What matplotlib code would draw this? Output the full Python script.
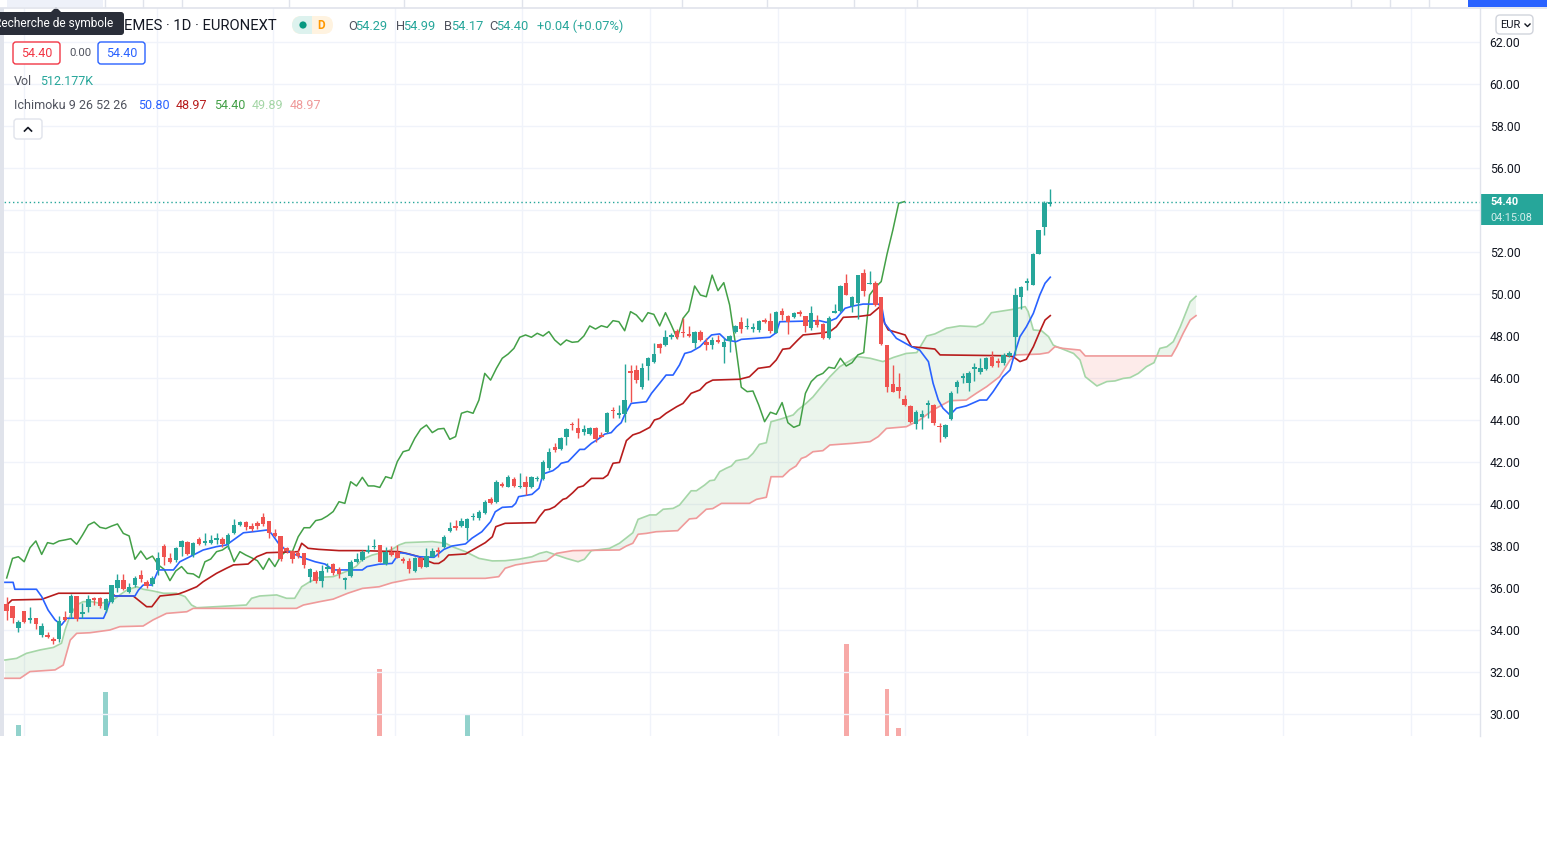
import numpy as np
import matplotlib
matplotlib.use("Agg")
import matplotlib.pyplot as plt
from matplotlib.patches import Rectangle, FancyBboxPatch, Polygon, Circle

plt.rcParams['font.family'] = ['Roboto', 'DejaVu Sans']

# ---- daily candles ----
opens = [35.24, 35.16, 34.11, 34.90, 34.46, 34.57, 33.76, 33.76, 33.57, 33.59,
         34.63, 34.79, 35.62, 34.76, 35.08, 35.54, 35.54, 34.95, 35.35, 35.98,
         36.38, 35.79, 36.14, 36.62, 36.30, 36.17, 36.86, 38.00, 37.41, 37.33,
         37.97, 38.21, 37.57, 38.33, 38.13, 38.16, 38.30, 38.33, 38.10, 38.60,
         38.98, 39.14, 38.95, 39.08, 39.40, 39.19, 38.63, 38.49, 37.89, 37.76,
         37.68, 37.65, 36.54, 36.78, 36.35, 36.89, 37.14, 36.89, 36.38, 36.57,
         37.25, 37.33, 37.70, 37.94, 38.05, 37.13, 37.73, 37.73, 37.37, 37.30,
         36.83, 37.41, 37.02, 37.49, 37.81, 37.94, 38.73, 38.95, 38.95, 38.87,
         39.37, 39.32, 39.56, 40.22, 40.11, 40.95, 40.83, 41.19, 40.79, 41.06,
         40.79, 41.17, 41.17, 41.70, 42.73, 42.60, 43.17, 43.81, 43.60, 43.44,
         43.33, 43.63, 43.29, 43.44, 44.48, 44.25, 44.29, 46.35, 46.38, 45.59,
         46.57, 46.78, 47.62, 47.57, 47.94, 48.25, 48.21, 48.10, 47.65, 48.21,
         47.73, 47.57, 47.81, 47.46, 47.78, 48.21, 48.68, 48.41, 48.33, 48.29,
         48.76, 48.71, 48.16, 49.19, 48.97, 48.92, 49.16, 48.95, 48.37, 48.76,
         48.57, 47.89, 49.11, 49.21, 50.51, 49.43, 49.59, 50.98, 50.48, 50.51,
         49.84, 47.57, 45.71, 45.56, 44.98, 44.67, 43.79, 44.13, 44.71, 44.71,
         43.71, 43.17, 44.03, 45.59, 45.98, 45.78, 46.43, 46.30, 46.41, 47.02,
         46.81, 46.73, 47.05, 47.94, 49.84, 50.54, 50.43, 51.90, 53.21, 54.29]
highs = [35.56, 35.16, 34.48, 34.90, 35.08, 34.57, 34.35, 33.92, 33.68, 34.67,
         34.92, 35.71, 35.62, 35.27, 35.67, 35.59, 35.59, 35.51, 36.14, 36.67,
         36.67, 36.22, 36.57, 36.86, 36.38, 36.57, 37.73, 38.10, 37.65, 37.97,
         38.29, 38.25, 38.21, 38.44, 38.60, 38.52, 38.63, 38.44, 38.63, 39.27,
         39.21, 39.21, 39.08, 39.21, 39.56, 39.19, 38.79, 38.49, 37.94, 37.81,
         37.81, 37.68, 36.94, 36.86, 37.10, 37.17, 37.17, 36.98, 36.51, 37.33,
         37.65, 37.81, 38.05, 38.32, 38.05, 37.97, 37.99, 38.05, 37.49, 37.41,
         37.49, 37.49, 37.89, 37.89, 37.97, 38.52, 39.16, 39.24, 39.32, 39.32,
         39.59, 39.71, 40.19, 40.35, 41.14, 41.06, 41.38, 41.27, 41.49, 41.33,
         41.33, 41.33, 42.10, 42.65, 42.89, 43.21, 43.60, 43.92, 44.08, 43.76,
         43.65, 43.68, 43.44, 44.40, 44.64, 44.71, 46.67, 46.62, 46.62, 46.70,
         46.98, 47.68, 47.68, 48.29, 48.16, 48.32, 48.84, 48.48, 48.25, 48.29,
         47.89, 47.97, 48.05, 47.89, 48.05, 48.52, 48.92, 48.84, 48.60, 48.76,
         48.84, 49.08, 49.19, 49.35, 49.00, 49.16, 49.24, 48.95, 49.43, 49.00,
         48.60, 48.95, 49.52, 50.43, 50.94, 49.90, 50.90, 51.17, 51.11, 50.63,
         49.84, 47.57, 46.62, 46.22, 45.19, 44.71, 44.48, 44.48, 44.95, 44.76,
         43.84, 43.79, 45.40, 45.90, 46.22, 46.35, 46.70, 46.94, 46.98, 47.30,
         46.94, 47.17, 47.30, 50.27, 50.38, 50.75, 51.97, 53.05, 54.44, 54.99]
lows = [34.48, 34.35, 33.92, 34.32, 34.32, 34.03, 33.68, 33.60, 33.32, 33.44,
        34.44, 34.59, 34.44, 34.56, 34.87, 35.19, 35.03, 34.87, 35.27, 35.83,
        35.90, 35.75, 36.06, 36.30, 35.98, 36.10, 36.62, 37.10, 37.17, 37.25,
        37.52, 37.57, 37.49, 38.05, 38.05, 38.10, 38.10, 37.97, 37.84, 38.57,
        38.95, 38.76, 38.73, 38.79, 38.95, 38.37, 38.44, 37.30, 37.65, 37.17,
        37.44, 36.94, 36.30, 36.22, 36.06, 36.78, 36.62, 36.46, 35.94, 36.51,
        37.17, 37.30, 37.65, 37.84, 37.22, 37.10, 37.52, 37.41, 37.17, 36.70,
        36.78, 36.94, 37.02, 37.46, 37.49, 37.89, 38.68, 38.76, 38.92, 38.29,
        39.24, 39.24, 39.52, 40.00, 40.06, 40.79, 40.79, 40.79, 40.75, 40.43,
        40.76, 41.11, 41.14, 41.62, 42.49, 42.57, 42.81, 43.52, 43.13, 43.29,
        43.29, 42.97, 43.17, 43.40, 44.08, 44.08, 43.92, 44.87, 45.78, 45.46,
        45.90, 46.73, 47.21, 47.52, 47.84, 47.84, 47.97, 47.94, 47.41, 47.78,
        47.33, 47.37, 47.65, 46.73, 47.25, 48.13, 48.16, 48.32, 48.21, 48.21,
        48.63, 48.16, 48.13, 48.76, 48.10, 48.87, 48.97, 48.21, 48.29, 48.44,
        47.84, 47.84, 49.08, 49.16, 49.95, 49.16, 48.79, 49.90, 50.48, 49.43,
        47.57, 45.35, 45.35, 45.03, 44.67, 43.87, 43.56, 43.56, 44.08, 43.76,
        42.97, 43.13, 44.00, 45.27, 45.75, 45.40, 45.87, 46.19, 46.38, 46.51,
        46.51, 46.62, 47.02, 47.10, 49.27, 50.19, 50.43, 51.90, 52.81, 54.17]
closes = [34.92, 34.56, 34.37, 34.40, 34.57, 34.29, 34.19, 33.67, 33.49, 34.43,
          34.48, 35.62, 34.52, 34.86, 35.46, 35.43, 35.16, 35.46, 36.14, 36.38,
          35.95, 36.03, 36.46, 36.41, 36.11, 36.48, 37.41, 37.49, 37.25, 37.92,
          38.24, 37.60, 38.16, 38.10, 38.24, 38.29, 38.35, 38.08, 38.52, 39.00,
          39.14, 38.89, 38.83, 38.95, 39.05, 38.60, 38.48, 37.37, 37.76, 37.37,
          37.52, 37.10, 36.89, 36.35, 36.81, 37.02, 36.70, 36.67, 36.49, 37.25,
          37.38, 37.73, 37.81, 38.00, 37.25, 37.73, 37.57, 37.44, 37.30, 36.89,
          37.41, 37.02, 37.52, 37.78, 37.73, 38.44, 38.87, 38.87, 39.21, 39.27,
          39.43, 39.64, 40.11, 40.03, 41.06, 40.86, 41.27, 40.86, 40.86, 40.79,
          41.30, 41.22, 42.02, 42.49, 42.57, 43.13, 43.56, 43.76, 43.40, 43.57,
          43.60, 43.08, 43.21, 44.32, 44.41, 44.32, 44.95, 46.22, 45.90, 46.46,
          46.94, 47.14, 47.41, 47.94, 48.05, 47.94, 48.13, 48.00, 48.21, 47.81,
          47.57, 47.81, 47.70, 47.73, 48.00, 48.48, 48.33, 48.49, 48.41, 48.73,
          48.68, 48.25, 49.16, 49.00, 48.68, 49.11, 49.03, 48.48, 49.11, 48.52,
          47.89, 48.84, 49.19, 50.38, 49.95, 49.87, 50.90, 50.16, 50.54, 49.48,
          47.62, 45.56, 45.35, 45.38, 44.71, 43.92, 44.37, 44.27, 44.83, 43.87,
          43.65, 43.76, 45.27, 45.83, 46.10, 46.22, 46.51, 46.46, 46.94, 46.57,
          46.73, 47.10, 47.21, 49.95, 50.32, 50.59, 51.90, 53.05, 54.32, 54.40]

# volume: only the bars whose tops rise into the visible pane, plus the last one
vol_bar = [2, 17, 64, 79, 144, 151, 153, 179]
vol_val = [850e3, 1180e3, 1410e3, 950e3, 1660e3, 1210e3, 820e3, 512177]

# ---- Ichimoku 9 26 52 26, vertices (bar index, price) ----
tenkan_x = [-0.3, 1.1, 1.4, 5.1, 6.0, 7.1, 8.3, 9.4, 10.3, 16.6, 17.1, 18.0, 22.0, 22.6,
            23.4, 24.9, 26.0, 28.6, 29.7, 32.0, 33.7, 36.0, 37.7, 38.9, 40.6, 42.3, 44.6,
            45.4, 46.6, 48.0, 50.3, 52.9, 54.6, 56.0, 61.0, 61.8, 63.8, 66.1, 66.7, 67.5,
            68.4, 70.7, 73.3, 73.8, 75.0, 76.4, 78.7, 79.8, 81.5, 83.0, 83.8, 85.0, 86.7,
            87.3, 87.8, 90.1, 91.3, 92.0, 93.7, 94.6, 95.1, 96.3, 97.1, 98.3, 99.1, 100.3,
            101.4, 102.6, 103.7, 104.6, 105.4, 106.0, 107.1, 109.7, 110.6, 112.0, 113.1,
            114.3, 115.4, 116.3, 117.4, 118.9, 120.0, 120.9, 122.3, 123.4, 125.1, 126.0,
            130.9, 132.0, 132.6, 137.1, 139.4, 140.6, 142.3, 143.8, 145.2, 146.9, 149.5,
            150.1, 150.6, 152.6, 155.2, 156.6, 158.1, 158.9, 159.8, 160.6, 161.8, 162.9,
            164.6, 166.9, 168.1, 169.2, 170.9, 172.1, 172.9, 173.8, 174.9, 176.1, 177.2,
            178.1, 179.0]
tenkan_y = [36.27, 36.27, 35.94, 35.94, 35.59, 34.95, 34.48, 34.24, 34.56, 34.56, 34.87,
            35.62, 35.62, 35.90, 36.14, 36.14, 36.86, 36.86, 37.25, 37.57, 37.81, 37.97,
            38.05, 38.29, 38.63, 38.68, 38.76, 38.60, 38.13, 37.78, 37.49, 37.25, 37.14,
            36.86, 36.86, 37.02, 37.13, 37.17, 37.41, 37.68, 37.65, 37.49, 37.46, 37.57,
            37.84, 38.00, 38.10, 38.37, 38.68, 39.16, 39.63, 39.84, 39.87, 40.03, 40.35,
            40.46, 40.75, 41.43, 41.59, 41.78, 41.94, 42.02, 42.25, 42.60, 42.60, 42.89,
            43.08, 43.33, 43.40, 43.68, 43.87, 44.25, 44.79, 44.87, 45.27, 45.75, 46.14,
            46.14, 46.62, 47.17, 47.25, 47.49, 47.81, 48.05, 48.10, 47.81, 47.73, 47.84,
            47.94, 48.16, 48.68, 48.71, 48.73, 48.65, 48.84, 49.32, 49.43, 49.52, 49.52,
            49.40, 48.60, 47.89, 47.49, 47.33, 46.78, 45.75, 44.95, 44.56, 44.24, 44.56,
            44.67, 44.95, 44.95, 45.35, 46.06, 46.38, 47.17, 47.97, 48.44, 49.08, 49.95,
            50.51, 50.80]

kijun_x = [-0.3, 0.9, 6.0, 8.9, 18.0, 18.6, 21.7, 24.0, 24.9, 26.3, 29.4, 30.6, 32.6,
           33.7, 36.0, 37.7, 38.9, 41.4, 42.9, 44.6, 50.0, 50.6, 51.7, 53.5, 57.0, 61.0,
           67.3, 69.0, 70.7, 71.8, 73.3, 74.1, 75.0, 75.8, 78.7, 82.1, 83.3, 83.9, 85.5,
           90.7, 91.4, 92.3, 93.1, 94.0, 95.4, 96.0, 97.1, 98.0, 98.9, 100.3, 102.3, 103.1,
           104.0, 105.1, 106.3, 107.4, 108.6, 110.3, 111.1, 112.0, 113.1, 114.9, 116.0,
           117.4, 118.9, 120.0, 121.1, 125.7, 127.4, 128.9, 130.9, 132.0, 133.1, 134.3,
           135.7, 136.6, 139.5, 141.2, 142.3, 143.5, 145.8, 148.1, 149.8, 150.6, 151.2,
           154.1, 155.2, 159.2, 160.1, 171.5, 172.6, 173.8, 174.9, 176.1, 177.2, 178.1,
           179.0]
kijun_y = [35.11, 35.43, 35.46, 35.75, 35.75, 35.62, 35.62, 35.11, 35.11, 35.62, 35.71,
           35.83, 36.06, 36.30, 36.70, 36.94, 37.10, 37.14, 37.49, 37.68, 37.73, 38.13,
           37.89, 37.84, 37.78, 37.78, 37.73, 37.62, 37.49, 37.33, 37.17, 37.17, 37.33,
           37.57, 37.62, 38.16, 38.44, 38.92, 39.08, 39.11, 39.40, 39.71, 39.75, 39.87,
           40.22, 40.27, 40.54, 40.79, 40.86, 41.22, 41.22, 41.38, 41.94, 41.98, 43.02,
           43.29, 43.40, 43.65, 44.00, 44.08, 44.32, 44.63, 44.79, 45.27, 45.43, 45.75,
           45.90, 45.94, 46.06, 46.46, 46.54, 46.86, 47.37, 47.41, 47.81, 48.05, 48.13,
           48.21, 48.44, 48.89, 48.92, 49.00, 49.40, 48.60, 48.29, 48.05, 47.49, 47.38,
           47.10, 47.06, 47.02, 46.78, 46.89, 47.49, 48.21, 48.76, 48.97]

span_a_x = [-0.3, 1.7, 3.4, 5.7, 8.0, 9.4, 10.0, 10.9, 12.0, 13.1, 14.6, 16.0, 18.0, 19.4,
            20.6, 22.3, 23.4, 24.9, 26.9, 29.1, 30.6, 31.7, 32.6, 41.1, 42.0, 43.4, 46.3,
            48.0, 49.4, 50.6, 52.0, 53.7, 56.0, 58.9, 60.0, 61.0, 62.7, 65.0, 66.1, 67.3,
            68.4, 73.0, 75.3, 76.4, 78.7, 81.0, 83.3, 85.5, 87.8, 90.1, 91.4, 92.6, 94.3,
            96.0, 98.0, 99.1, 100.3, 103.4, 105.1, 107.4, 108.3, 110.3, 111.4, 112.6, 114.3,
            115.4, 117.4, 118.3, 119.7, 120.6, 121.4, 122.3, 123.4, 124.3, 125.1, 127.1,
            128.0, 129.1, 130.3, 131.1, 132.6, 134.9, 135.7, 137.1, 138.3, 139.5, 141.2,
            142.9, 145.8, 148.1, 150.3, 152.1, 154.3, 156.1, 157.8, 159.2, 161.2, 163.5,
            166.3, 167.5, 168.9, 172.6, 174.7, 175.2, 176.1, 177.5, 178.7, 179.5, 180.1,
            183.0, 184.1, 185.0, 187.0, 188.7, 190.1, 191.5, 192.7, 194.1, 195.5, 196.8,
            197.8, 199.0, 200.1, 201.3, 203.0, 204.0]
span_a_y = [32.57, 32.65, 32.89, 33.05, 33.17, 33.37, 34.00, 34.71, 35.19, 35.35, 35.35,
            35.27, 35.38, 35.67, 35.90, 36.06, 35.94, 35.87, 35.75, 35.75, 35.59, 35.19,
            35.06, 35.19, 35.51, 35.62, 35.67, 35.51, 35.51, 36.06, 36.30, 36.51, 36.54,
            36.86, 37.05, 37.37, 37.57, 37.73, 37.84, 38.05, 38.16, 38.21, 38.13, 37.97,
            37.73, 37.41, 37.29, 37.30, 37.37, 37.49, 37.65, 37.73, 37.57, 37.41, 37.25,
            37.37, 37.78, 37.89, 38.13, 38.63, 39.27, 39.48, 39.48, 39.75, 39.79, 39.95,
            40.63, 40.63, 40.90, 41.11, 41.14, 41.54, 41.70, 41.81, 42.06, 42.17, 42.41,
            42.84, 42.92, 43.92, 44.03, 44.24, 44.48, 44.79, 45.10, 45.51, 46.06, 46.54,
            47.02, 46.94, 46.78, 46.98, 47.17, 47.21, 48.00, 48.10, 48.37, 48.48, 48.44,
            48.60, 49.11, 49.27, 49.40, 49.16, 48.29, 48.25, 47.97, 47.57, 47.49, 47.17,
            46.86, 46.06, 45.62, 45.83, 45.86, 45.98, 46.02, 46.22, 46.54, 46.73, 47.41,
            47.49, 47.73, 48.44, 49.63, 49.89]

span_b_x = [-0.3, 2.3, 4.0, 8.3, 9.7, 10.9, 12.0, 14.3, 17.7, 19.4, 23.4, 25.1, 27.4, 30.9,
            32.0, 49.7, 50.9, 52.3, 53.7, 56.0, 58.5, 61.0, 63.9, 66.1, 69.0, 72.4, 82.1,
            84.4, 85.5, 87.3, 90.7, 92.6, 94.3, 97.1, 105.1, 106.3, 107.4, 108.3, 109.7,
            111.4, 115.1, 117.1, 118.3, 120.0, 121.1, 122.6, 127.4, 128.6, 130.3, 131.1,
            133.1, 134.3, 135.4, 136.3, 137.1, 138.3, 140.0, 141.2, 145.2, 148.1, 149.5,
            150.9, 154.3, 156.6, 158.9, 161.8, 164.6, 166.3, 168.1, 170.3, 172.1, 173.2,
            177.2, 178.7, 179.8, 181.2, 184.1, 185.0, 199.8, 200.7, 201.8, 203.0, 204.0]
span_b_y = [31.70, 31.70, 32.02, 32.10, 32.33, 33.52, 33.84, 33.87, 34.00, 34.16, 34.19,
            34.48, 34.79, 34.87, 35.03, 35.03, 35.19, 35.27, 35.35, 35.47, 35.75, 35.98,
            36.06, 36.25, 36.41, 36.46, 36.46, 36.54, 36.94, 37.10, 37.25, 37.30, 37.65,
            37.78, 37.81, 38.00, 38.13, 38.56, 38.60, 38.68, 38.73, 39.29, 39.32, 39.75,
            39.78, 40.03, 40.03, 40.22, 40.32, 41.30, 41.30, 41.62, 41.81, 42.17, 42.25,
            42.49, 42.54, 42.81, 42.89, 42.97, 43.21, 43.60, 43.68, 44.00, 44.48, 44.92,
            44.95, 45.27, 45.59, 46.06, 46.86, 47.10, 47.14, 47.21, 47.49, 47.41, 47.33,
            47.05, 47.05, 47.49, 48.13, 48.76, 48.97]

lag = 25   # lagging span plotted 25 bars back
month_lines = [3.0, 25.8, 45.7, 66.6, 88.4, 110.3, 132.3, 154.1, 175.0, 197.0, 218.9, 240.9]
price_ticks = np.arange(30, 63, 2)

UP, DOWN = '#26a69a', '#ef5350'
W, H = 1547, 857
BAR0, STEP = 6.7, 5.83          # pixel x of bar 0 and bar spacing
PANE_R, PANE_T, PANE_B = 1480, 8, 736

fig = plt.figure(figsize=(W / 100, H / 100), dpi=100)
rect = [0, 1 - PANE_B / H, PANE_R / W, (PANE_B - PANE_T) / H]
ax = fig.add_axes(rect)
axv = ax.twinx()
axv.set_zorder(ax.get_zorder() - 1)
ax.patch.set_visible(False)
axv.patch.set_visible(True)
axv.patch.set_facecolor('white')

ax.set_xlim(-BAR0 / STEP, (PANE_R - BAR0) / STEP)
ax.set_ylim(62 - (PANE_B - 42) / 21, 62 + (42 - PANE_T) / 21)
for a in (ax, axv):
    for s in a.spines.values():
        s.set_visible(False)

# grid + price scale (the 54.00 label sits under the last-price tag)
last = closes[-1]
ax.set_xticks(month_lines)
ax.set_yticks(price_ticks)
ax.set_yticklabels(['' if abs(v - last) < 1 else f'{v:.2f}' for v in price_ticks])
ax.yaxis.tick_right()
ax.tick_params(axis='x', length=0, labelbottom=False)
ax.tick_params(axis='y', length=0, pad=7, labelsize=8.8, labelcolor='#131722')
ax.grid(True, color='#f0f3fa', lw=1)
ax.set_axisbelow(True)
axv.set_yticks([])

# volume (base sits below the visible part of the pane)
idx = np.arange(len(closes))
o, h, l, c = map(np.array, (opens, highs, lows, closes))
up = c >= o
vcols = ['#92d2cc' if up[i] else '#f7a9a7' for i in vol_bar]
axv.bar(vol_bar, vol_val, width=0.8, color=vcols, linewidth=0)
axv.set_ylim(0.74e6, 8.02e6)

# cloud
xs = np.union1d(span_a_x, span_b_x)
sa = np.interp(xs, span_a_x, span_a_y)
sb = np.interp(xs, span_b_x, span_b_y)
ax.fill_between(xs, sa, sb, where=sa >= sb, interpolate=True, color='#43a047', alpha=0.1, lw=0, zorder=1)
ax.fill_between(xs, sa, sb, where=sa < sb, interpolate=True, color='#f44336', alpha=0.1, lw=0, zorder=1)
ax.plot(span_a_x, span_a_y, color='#a5d6a7', lw=1.2, zorder=2)
ax.plot(span_b_x, span_b_y, color='#ef9a9a', lw=1.2, zorder=2)

# lines
ax.plot(idx[lag:] - lag, c[lag:], color='#43a047', lw=1.1, zorder=2)
ax.plot(kijun_x, kijun_y, color='#b71c1c', lw=1.2, zorder=2)
ax.plot(tenkan_x, tenkan_y, color='#2962ff', lw=1.2, zorder=2)

# candles
cols = np.where(up, UP, DOWN)
ax.vlines(idx, l, h, colors=cols, lw=1, zorder=3)
body = np.maximum(np.abs(c - o), 0.06)
ax.bar(idx, body, bottom=np.minimum(o, c), width=0.76, color=cols, linewidth=0, zorder=4)

ax.axhline(last, color=UP, lw=1, ls=(0, (1, 2)), zorder=2)

# ---- overlay in pixel units for the TradingView chrome ----
ov = fig.add_axes([0, 0, 1, 1])
ov.set_xlim(0, W)
ov.set_ylim(H, 0)
ov.axis('off')
ov.patch.set_visible(False)

def txt(x, y, s, color='#131722', size=9, **kw):
    ov.text(x, y, s, color=color, fontsize=size, va='center', ha=kw.pop('ha', 'left'), **kw)

def rbox(x, y, w, hgt, fc='white', ec='none', r=3, lw=1):
    ov.add_patch(FancyBboxPatch((x, y), w, hgt, boxstyle=f'round,pad=0,rounding_size={r}',
                                fc=fc, ec=ec, lw=lw))

# top strip
ov.add_patch(Rectangle((7, 0), 96, 7, color='#eef1f9', lw=0))
for sx in [105, 143, 182, 289, 404, 522, 682, 767, 854, 917, 1193, 1232, 1351, 1390, 1429]:
    ov.plot([sx, sx], [0, 7], color='#e0e3eb', lw=1)
ov.add_patch(Rectangle((1468, 0), 79, 7, color='#2962ff', lw=0))
ov.plot([0, W], [8, 8], color='#e0e3eb', lw=1.2)
ov.add_patch(Rectangle((0, 8), 4, PANE_B - 8, color='#e0e3eb', lw=0))
ov.plot([PANE_R, PANE_R], [8, PANE_B], color='#e0e3eb', lw=1)

# legend header
txt(124, 25.5, 'EMES · 1D · EURONEXT', size=10.6)
ov.add_patch(Polygon([(50, 13), (56, 7), (62, 13)], color='#2a2e39', lw=0))
rbox(-4, 12, 128, 23, fc='#2a2e39', r=3)
txt(-6.5, 23.5, 'Recherche de symbole', color='white', size=8.6)

rbox(292, 16, 41, 18, fc='#fff3e0', r=9)
ov.add_patch(Circle((301, 25), 9, color='#ddf2ee', lw=0))
ov.add_patch(Rectangle((301, 16), 11, 18, color='#ddf2ee', lw=0))
ov.add_patch(Circle((303, 25), 3.6, color='#089981', lw=0))
txt(321.5, 25.5, 'D', color='#ff9800', size=8.5, ha='center', fontweight='bold')

ohlc = [(348, 'O', '54.29'), (396, 'H', '54.99'), (444, 'B', '54.17'), (489, 'C', '54.40')]
for x0, lab, val in ohlc:
    txt(x0, 26, lab, color='#50535e', size=9.3)
    txt(x0 + 7.5, 26, val, color=UP, size=9.3)
txt(537, 26, '+0.04 (+0.07%)', color=UP, size=9.3)

rbox(13, 42, 47, 22, ec='#f23645')
txt(36.5, 53, '54.40', color='#f23645', size=9, ha='center')
txt(80, 53, '0.00', color='#50535e', size=8.2, ha='center')
rbox(98, 42, 47, 22, ec='#2962ff')
txt(121.5, 53, '54.40', color='#2962ff', size=9, ha='center')

txt(14, 81, 'Vol', color='#50535e', size=9)
txt(40, 81, '512.177K', color=UP, size=9)

txt(14, 105, 'Ichimoku 9 26 52 26', color='#50535e', size=9)
for x0, s, col in [(138, '50.80', '#2962ff'), (176, '48.97', '#b71c1c'), (214, '54.40', '#43a047'),
                   (252, '49.89', '#a5d6a7'), (290, '48.97', '#ef9a9a')]:
    txt(x0, 105, s, color=col, size=9)

rbox(14, 119, 28, 20, ec='#e0e3eb')
ov.plot([24.5, 28, 31.5], [131, 127.5, 131], color='#131722', lw=1.2)

# price scale extras
rbox(1496, 15, 37, 19, ec='#d1d4dc', r=4)
txt(1500, 25, 'EUR', size=8)
ov.plot([1525, 1527.5, 1530], [24, 26.5, 24], color='#131722', lw=1)

ov.add_patch(Rectangle((1480, 194), 63, 31, color=UP, lw=0))
txt(1490, 201.5, '54.40', color='white', size=7.8, fontweight='bold')
txt(1490, 217.5, '04:15:08', color='#d4eeeb', size=7.8)

fig.savefig('out.png', dpi=100)
